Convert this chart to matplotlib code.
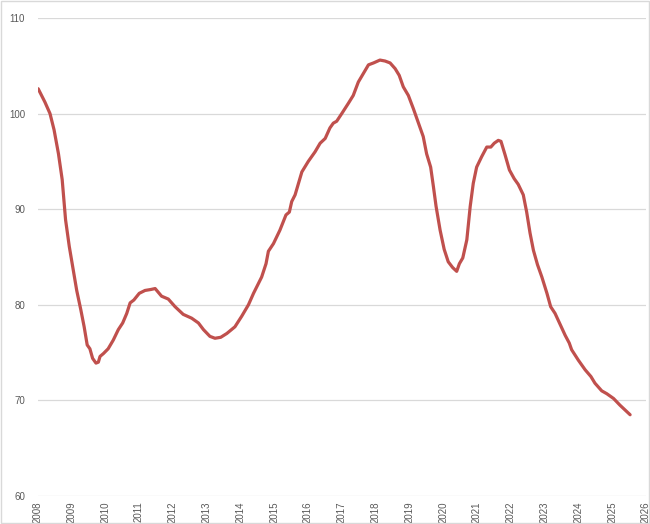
import matplotlib
matplotlib.use("Agg")
import matplotlib.pyplot as plt
from matplotlib.patches import Rectangle

# Data (decimal year, index value)
dates = [2008.02, 2008.22, 2008.37, 2008.49, 2008.62, 2008.73, 2008.83, 2008.94,
         2009.04, 2009.16, 2009.28, 2009.38, 2009.47, 2009.55, 2009.63, 2009.73,
         2009.80, 2009.85, 2009.95, 2010.09, 2010.24, 2010.39, 2010.52, 2010.64,
         2010.74, 2010.85, 2011.01, 2011.18, 2011.35, 2011.48, 2011.60, 2011.67,
         2011.87, 2012.07, 2012.31, 2012.56, 2012.76, 2012.91, 2013.10, 2013.25,
         2013.42, 2013.60, 2013.84, 2014.04, 2014.24, 2014.39, 2014.63, 2014.76,
         2014.83, 2014.98, 2015.17, 2015.35, 2015.45, 2015.52, 2015.62, 2015.72,
         2015.82, 2016.01, 2016.21, 2016.36, 2016.51, 2016.65, 2016.75, 2016.85,
         2017.00, 2017.20, 2017.34, 2017.49, 2017.64, 2017.79, 2017.94, 2018.13,
         2018.28, 2018.43, 2018.58, 2018.70, 2018.82, 2018.97, 2019.12, 2019.27,
         2019.41, 2019.51, 2019.63, 2019.71, 2019.79, 2019.91, 2020.03, 2020.15,
         2020.28, 2020.40, 2020.48, 2020.58, 2020.70, 2020.80, 2020.89, 2020.99,
         2021.14, 2021.29, 2021.41, 2021.51, 2021.63, 2021.71, 2021.83, 2021.96,
         2022.10, 2022.22, 2022.37, 2022.47, 2022.57, 2022.67, 2022.79, 2022.92,
         2023.07, 2023.18, 2023.31, 2023.44, 2023.61, 2023.73, 2023.80, 2024.00,
         2024.20, 2024.37, 2024.49, 2024.69, 2024.84, 2025.04, 2025.23, 2025.38,
         2025.53]
index_values = [102.6, 101.2, 100.0, 98.3, 95.8, 93.1, 88.9, 86.1,
                84.0, 81.5, 79.5, 77.7, 75.8, 75.4, 74.4, 73.9,
                74.0, 74.6, 74.9, 75.4, 76.3, 77.4, 78.1, 79.1,
                80.2, 80.5, 81.2, 81.5, 81.6, 81.7, 81.2, 80.9,
                80.6, 79.8, 79.0, 78.6, 78.1, 77.4, 76.7, 76.5,
                76.6, 77.0, 77.7, 78.8, 80.0, 81.2, 82.9, 84.3,
                85.6, 86.4, 87.8, 89.4, 89.7, 90.8, 91.5, 92.7,
                93.9, 95.0, 96.0, 96.9, 97.4, 98.5, 99.0, 99.2,
                100.0, 101.1, 101.9, 103.3, 104.2, 105.1, 105.3, 105.6,
                105.5, 105.3, 104.7, 104.0, 102.8, 101.9, 100.5, 99.0,
                97.6, 95.8, 94.4, 92.4, 90.3, 87.8, 85.8, 84.5,
                83.9, 83.5, 84.3, 84.9, 86.8, 90.3, 92.7, 94.4,
                95.5, 96.5, 96.5, 96.9, 97.2, 97.1, 95.7, 94.1,
                93.2, 92.6, 91.5, 89.7, 87.5, 85.7, 84.2, 82.9,
                81.2, 79.8, 79.1, 78.1, 76.8, 76.0, 75.3, 74.2,
                73.2, 72.5, 71.8, 71.0, 70.7, 70.2, 69.5, 69.0,
                68.5]

year_ticks = list(range(2008, 2027))
y_ticks = [60, 70, 80, 90, 100, 110]

plt.rcParams['font.family'] = ['Liberation Sans', 'DejaVu Sans']

fig = plt.figure(figsize=(6.5, 5.24), dpi=100)
ax = fig.add_axes([37.5 / 650, 1 - 496 / 524, (646 - 37.5) / 650, (496 - 18) / 524])

ax.plot(dates, index_values, color='#C0504D', linewidth=2.3, solid_capstyle='round',
        solid_joinstyle='round', zorder=3)

ax.set_xlim(2008, 2026)
ax.set_ylim(60, 110)
ax.set_xticks(year_ticks)
ax.set_xticklabels([str(y) for y in year_ticks], rotation=90, fontsize=7, color='#595959')
ax.set_yticks(y_ticks)
ax.set_yticklabels([str(v) for v in y_ticks], fontsize=7, color='#595959')
ax.tick_params(axis='both', length=0)
ax.tick_params(axis='y', pad=9)
ax.tick_params(axis='x', pad=4)

ax.grid(axis='y', color='#D9D9D9', linewidth=0.9)
ax.set_axisbelow(True)
for s in ax.spines.values():
    s.set_visible(False)

# chart area border
fig.patches.append(Rectangle((0.0008, 0.001), 0.9984, 0.998, transform=fig.transFigure,
                             fill=False, edgecolor='#D9D9D9', linewidth=1.0))

fig.savefig('out.png', dpi=100)
